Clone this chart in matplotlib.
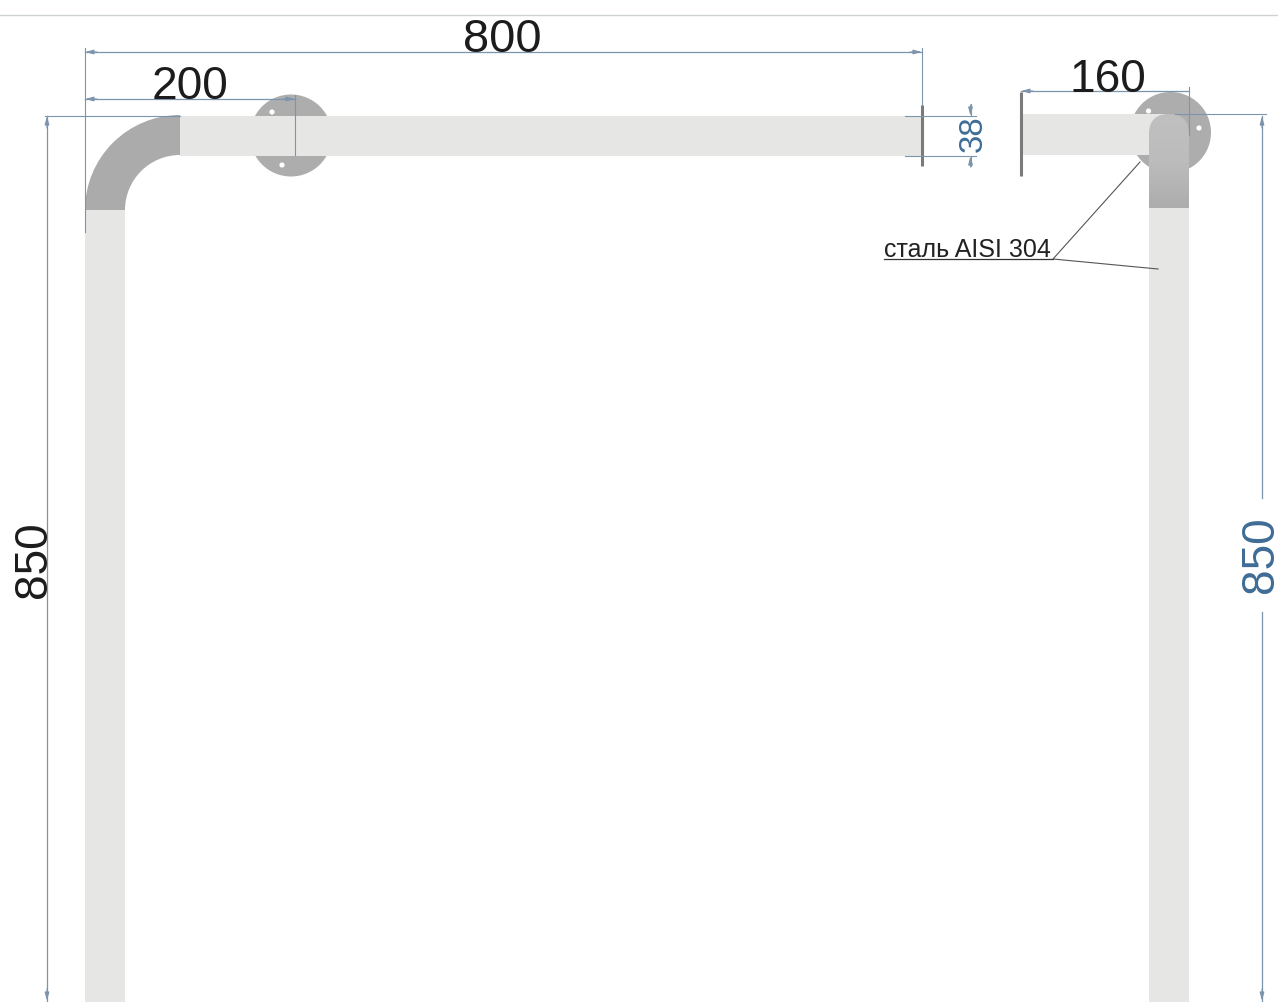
import numpy as np
import matplotlib
matplotlib.use("Agg")
import matplotlib.pyplot as plt
from matplotlib.patches import Circle, Rectangle, Wedge, FancyBboxPatch

# Drawing geometry, in image pixels
W, H = 1278, 1002
tube_rects = [(85, 210, 40, 792), (180, 116, 742, 40), (1021, 114, 144, 41), (1149, 208, 40, 794)]
flanges = [(291, 135.5, 41), (1170.5, 132.5, 40.5)]
holes = [(272, 112), (282, 165), (1148.5, 111), (1199, 128)]
elbow = (180, 210, 95, 55)
breaks = [(922, 105, 166), (1021, 92, 176)]
h_dims = [(85, 922, 52), (85, 295, 99), (1021, 1189, 91)]
v_dims = [(47, 116, 1002), (1262, 116, 1002)]
ext_lines = [((85, 85), (48, 232)), ((922, 922), (48, 105)), ((295, 295), (95, 155)),
             ((1189, 1189), (87, 135)), ((45, 180), (116, 116)), ((1175, 1266), (114, 114)),
             ((905, 976), (116, 116)), ((905, 976), (156, 156))]
labels = ["800", "200", "160", "850", "850", "38"]
note = "сталь AISI 304"

TUBE = "#e6e6e4"; ELBOW = "#ababab"; FLANGE = "#adadad"; DIM = "#7d94ad"; BREAK = "#7a7a7a"; BLUE = "#3f6c95"
FONT = ["Liberation Sans", "DejaVu Sans"]

fig = plt.figure(figsize=(W / 100, H / 100), dpi=100, facecolor="white")
ax = fig.add_axes([0, 0, 1, 1])
ax.set_xlim(0, W); ax.set_ylim(H, 0); ax.axis("off")

def px(p):
    return p * 0.72

ax.plot([0, W], [15, 15], color="#cfd2d4", lw=1, zorder=1)

for cx, cy, r in flanges:
    ax.add_patch(Circle((cx, cy), r, fc=FLANGE, ec="none", zorder=2))
for x, y, w, h in tube_rects:
    ax.add_patch(Rectangle((x, y), w, h, fc=TUBE, ec="none", zorder=3))
cx, cy, ro, ri = elbow
ax.add_patch(Wedge((cx, cy), ro, 180, 270, width=ro - ri, fc=ELBOW, ec="none", zorder=3))
for x, y in holes:
    ax.add_patch(Circle((x, y), 2.6, fc="white", ec="none", zorder=5))

# rounded end on the right-hand post, shaded top to bottom
cap = FancyBboxPatch((1149, 114), 40, 130, boxstyle="round,pad=0,rounding_size=20",
                     fc="none", ec="none", zorder=4)
ax.add_patch(cap)
grad = np.linspace(0, 1, 100).reshape(-1, 1)
cmap = matplotlib.colors.LinearSegmentedColormap.from_list("c", ["#c0c0c0", "#bcbcbc", "#adadad"])
im = ax.imshow(grad, extent=(1149, 1189, 208, 114), cmap=cmap, aspect="auto", zorder=4)
im.set_clip_path(cap)
ax.set_xlim(0, W); ax.set_ylim(H, 0)

for x, y0, y1 in breaks:
    ax.plot([x, x], [y0, y1], color=BREAK, lw=2.2, solid_capstyle="butt", zorder=6)
for (xs, ys) in ext_lines:
    ax.plot(xs, ys, color=DIM, lw=0.8, zorder=7)

def arrow(tip, tail):
    ax.annotate("", xy=tip, xytext=tail, zorder=8,
                arrowprops=dict(arrowstyle="-|>,head_length=0.45,head_width=0.12", mutation_scale=11,
                                color=DIM, lw=0.8, shrinkA=0, shrinkB=0))

for x0, x1, y in h_dims:
    ax.plot([x0, x1], [y, y], color=DIM, lw=0.9, zorder=7)
    arrow((x0, y), (x0 + 12, y))
for x0, x1, y in h_dims[:2]:
    arrow((x1, y), (x1 - 12, y))
for x, y0, y1 in v_dims:
    if x > 1000:
        ax.plot([x, x], [y0, 498], color=DIM, lw=0.9, zorder=7)
        ax.plot([x, x], [612, y1], color=DIM, lw=0.9, zorder=7)
    else:
        ax.plot([x, x], [y0, y1], color=DIM, lw=0.9, zorder=7)
    arrow((x, y0), (x, y0 + 12))
    arrow((x, 1001), (x, 989))
ax.plot([970.5, 970.5], [104, 116], color=DIM, lw=0.8, zorder=7)
ax.plot([970.5, 970.5], [156, 166], color=DIM, lw=0.8, zorder=7)
arrow((970.5, 116), (970.5, 105))
arrow((970.5, 156), (970.5, 167))

horiz = dict(family=FONT, ha="center", va="baseline", zorder=9, color="#1c1c1c")
ax.text(502, 52, labels[0], fontsize=px(47), **horiz)
ax.text(190, 99, labels[1], fontsize=px(46), **horiz)
ax.text(1108, 92, labels[2], fontsize=px(46), **horiz)
vert = dict(family=FONT, ha="center", va="baseline", rotation=90, rotation_mode="anchor", zorder=9)
ax.text(46, 560, labels[3], fontsize=px(46), color="#1c1c1c", **vert)
ax.text(1273, 555, labels[4], fontsize=px(46), color=BLUE, **vert)
ax.text(982, 134, labels[5], fontsize=px(33), color=BLUE, **vert)

# leader and note
ax.plot([884, 1053], [259, 259], color="#333333", lw=0.9, zorder=7)
ax.plot([1140, 1053, 1158], [162, 259, 269], color="#555555", lw=0.8, zorder=7)
ax.text(884, 257, note, fontsize=px(25), color="#222222", family=FONT, ha="left", va="baseline", zorder=9)

fig.savefig("out.png", dpi=100, facecolor="white")
